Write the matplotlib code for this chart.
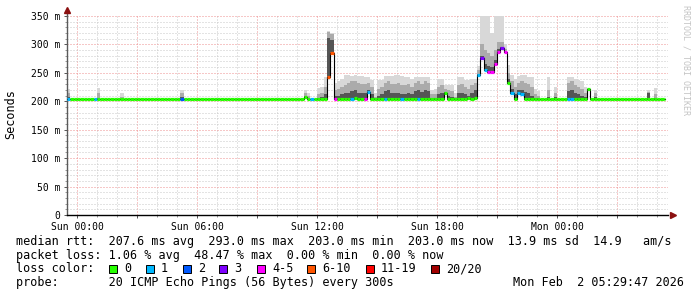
import numpy as np
import matplotlib.pyplot as plt
from matplotlib.patches import Rectangle

# ---- data (hours since Sun 00:00, rtt in ms) ----
base_rtt = 203.5
first_hour = -0.5
last_hour = 29.4
bin_hours = 1 / 6

# bins that differ from the quiet baseline
ev_hour = [-0.5, 0.833, 1.0, 2.167, 5.167, 11.333, 11.5, 11.667, 12.0, 12.167,
           12.333, 12.5, 12.667, 12.833, 13.0, 13.167, 13.333, 13.5, 13.667, 13.833,
           14.0, 14.167, 14.333, 14.5, 14.667, 14.833, 15.0, 15.167, 15.333, 15.5,
           15.667, 15.833, 16.0, 16.167, 16.333, 16.5, 16.667, 16.833, 17.0, 17.167,
           17.333, 17.5, 17.667, 17.833, 18.0, 18.167, 18.333, 18.5, 18.667, 18.833,
           19.0, 19.167, 19.333, 19.5, 19.667, 19.833, 20.0, 20.167, 20.333, 20.5,
           20.667, 20.833, 21.0, 21.167, 21.333, 21.5, 21.667, 21.833, 22.0, 22.167,
           22.333, 22.5, 22.667, 22.833, 23.0, 23.5, 23.833, 24.5, 24.667, 24.833,
           25.0, 25.167, 25.333, 25.5, 25.833, 28.5, 28.833]
ev_median = [203.5, 203.5, 203.5, 203.5, 203.5, 208, 203.5, 203.5, 203.5, 203.5,
             203.5, 243, 285, 203.5, 203.5, 203.5, 203.5, 203.5, 203.5, 205,
             203.5, 203.5, 203.5, 216, 203.5, 203.5, 203.5, 203.5, 203.5, 203.5,
             203.5, 203.5, 203.5, 203.5, 203.5, 203.5, 203.5, 203.5, 203.5, 203.5,
             203.5, 203.5, 203.5, 203.5, 203.5, 203.5, 214, 203.5, 203.5, 203.5,
             203.5, 203.5, 203.5, 206, 203.5, 205, 246, 276, 255, 251,
             251, 265, 287, 293, 287, 232, 214, 204, 214, 212,
             204, 203.5, 203.5, 203.5, 203.5, 203.5, 203.5, 203.5, 203.5, 203.5,
             203.5, 203.5, 203.5, 221, 203.5, 203.5, 203.5]
ev_loss = [1, 1, 0, 0, 2, 0, 0, 1, 0, 0,
           0, 5, 5, 4, 0, 0, 0, 0, 1, 0,
           0, 0, 4, 1, 0, 0, 0, 0, 1, 0,
           0, 0, 0, 1, 0, 0, 0, 0, 1, 0,
           0, 0, 0, 0, 0, 0, 0, 0, 0, 0,
           0, 0, 0, 0, 0, 0, 1, 3, 1, 4,
           4, 4, 4, 3, 4, 0, 1, 0, 1, 1,
           0, 0, 0, 0, 0, 0, 0, 1, 1, 0,
           0, 0, 0, 0, 0, 0, 0]
ev_top = [221, 203.5, 223, 215, 220, 220, 215, 203.5, 223, 225,
          243, 324, 320, 232, 235, 240, 246, 246, 245, 246,
          244, 245, 243, 243, 238, 215, 237, 237, 244, 244,
          244, 246, 246, 245, 243, 243, 240, 243, 243, 243,
          243, 243, 220, 222, 240, 240, 229, 229, 228, 215,
          243, 243, 238, 238, 240, 240, 262, 350, 350, 350,
          320, 350, 350, 350, 300, 264, 246, 240, 244, 246,
          246, 243, 243, 222, 218, 243, 225, 243, 243, 240,
          238, 236, 225, 224, 220, 220, 223]
ev_mid = [215, 203.5, 215, 208, 214, 214, 210, 203.5, 212, 215,
          225, 322, 318, 220, 222, 225, 228, 232, 235, 235,
          232, 230, 230, 232, 225, 208, 222, 225, 232, 235,
          230, 230, 232, 228, 228, 230, 225, 232, 235, 230,
          235, 232, 212, 212, 225, 228, 222, 220, 218, 208,
          228, 230, 225, 222, 228, 232, 255, 300, 290, 285,
          280, 290, 305, 305, 292, 250, 235, 225, 232, 235,
          232, 230, 225, 212, 210, 220, 215, 232, 235, 228,
          225, 222, 215, 222, 214, 217, 212]
ev_low = [208, 203.5, 205, 204, 208, 210, 205, 203.5, 206, 208,
          212, 312, 308, 210, 210, 212, 214, 215, 218, 220,
          215, 215, 214, 220, 212, 205, 210, 212, 218, 220,
          215, 214, 215, 212, 213, 215, 212, 218, 220, 216,
          220, 218, 206, 206, 212, 214, 216, 210, 208, 205,
          214, 215, 212, 210, 215, 220, 248, 280, 265, 262,
          260, 272, 292, 296, 288, 240, 222, 212, 220, 220,
          216, 214, 210, 206, 205, 208, 207, 218, 220, 214,
          212, 210, 208, 221, 208, 215, 206]

loss_labels = ['0', '1', '2', '3', '4-5', '6-10', '11-19', '20/20']
loss_colors = ['#26ff00', '#00b8ff', '#0059ff', '#7e00ff', '#ff00ff',
               '#ff5500', '#ff0000', '#a10000']
tick_hours = [0, 6, 12, 18, 24]
tick_names = ['Sun 00:00', 'Sun 06:00', 'Sun 12:00', 'Sun 18:00', 'Mon 00:00']
y_ticks = [0, 50, 100, 150, 200, 250, 300, 350]
y_names = ['0', '50 m', '100 m', '150 m', '200 m', '250 m', '300 m', '350 m']

stats_line = "median rtt:  207.6 ms avg  293.0 ms max  203.0 ms min  203.0 ms now  13.9 ms sd  14.9   am/s"
loss_line = "packet loss: 1.06 % avg  48.47 % max  0.00 % min  0.00 % now"
probe_line = "probe:       20 ICMP Echo Pings (56 Bytes) every 300s"
stamp = "Mon Feb  2 05:29:47 2026"

# ---- build binned series ----
n_bins = int(round((last_hour - first_hour) / bin_hours)) + 1
starts = first_hour + np.arange(n_bins) * bin_hours
ends = starts + bin_hours
ends[-1] = last_hour
median = np.full(n_bins, base_rtt)
loss = np.zeros(n_bins, dtype=int)
top = median.copy()
mid = median.copy()
low = median.copy()
for h, m, l, t, mi, lo in zip(ev_hour, ev_median, ev_loss, ev_top, ev_mid, ev_low):
    k = int(round((h - first_hour) / bin_hours))
    median[k], loss[k], top[k], mid[k], low[k] = m, l, t, mi, lo

edges = np.append(starts, last_hour)
def stepped(v):
    return np.append(v, v[-1])

W, H = 697, 297
mono = 'DejaVu Sans Mono'
plt.rcParams['font.family'] = mono

fig = plt.figure(figsize=(W / 100, H / 100), dpi=100)
ax = fig.add_axes([67 / W, (H - 215) / H, 601 / W, 199 / H])
ax.set_xlim(-0.5, 29.55)
ax.set_ylim(0, 350)

# smoke
ax.fill_between(edges, stepped(median), stepped(top), step='post', color='#d8d8d8', lw=0, zorder=2)
ax.fill_between(edges, stepped(median), stepped(mid), step='post', color='#ababab', lw=0, zorder=2)
ax.fill_between(edges, stepped(median), stepped(low), step='post', color='#555555', lw=0, zorder=2)

# median line, coloured by loss
ax.step(edges, stepped(median), where='post', color='black', lw=0.8, zorder=3)
ax.hlines(median, starts, ends, colors=[loss_colors[i] for i in loss], lw=2.3, zorder=4)

# grid
ax.set_yticks(y_ticks)
ax.set_yticklabels(y_names)
ax.set_yticks(np.arange(0, 351, 10), minor=True)
major_x = np.arange(0, 28, 3)
ax.set_xticks(major_x)
ax.set_xticklabels([tick_names[tick_hours.index(h)] if h in tick_hours else '' for h in major_x])
ax.set_xticks(np.arange(0, 30, 1), minor=True)
ax.grid(which='minor', color='#c8c8c8', linestyle=(0, (1, 2)), lw=0.72, zorder=1)
ax.grid(which='major', color='#ee9090', linestyle=(0, (1, 2)), lw=0.72, zorder=1)
ax.set_axisbelow(True)

ax.tick_params(which='major', length=2.5, width=0.7, color='#555555', labelsize=7, pad=2.5)
ax.tick_params(which='minor', length=1.5, width=0.6, color='#888888')
for s in ['top', 'right']:
    ax.spines[s].set_visible(False)
ax.spines['left'].set_color('#5a5a5a')
ax.spines['bottom'].set_color('black')
ax.spines['left'].set_linewidth(1.0)
ax.spines['bottom'].set_linewidth(1.0)

# axis arrows
ax.plot([-0.5, -0.5], [350, 358], color='#5a5a5a', lw=1, clip_on=False, zorder=5)
ax.plot([-0.5], [361], marker='^', ms=4, color='#8b1010', clip_on=False, zorder=5)
ax.plot([29.78], [0], marker='>', ms=4, color='#8b1010', clip_on=False, zorder=5)

def px(x, y):
    return x / W, 1 - y / H

fig.text(*px(10.5, 114), 'Seconds', rotation=90, ha='center', va='center', fontsize=8.5)
fig.text(*px(686, 60), 'RRDTOOL / TOBI OETIKER', rotation=270, ha='center', va='center',
         fontsize=6, color='#c4c4c4')

fig.text(*px(16, 245), stats_line, fontsize=8.5, va='baseline')
fig.text(*px(16, 258.7), loss_line, fontsize=8.5, va='baseline')
fig.text(*px(16, 272.4), 'loss color:', fontsize=8.5, va='baseline')
fig.text(*px(16, 286), probe_line, fontsize=8.5, va='baseline')
fig.text(*px(513, 286), stamp, fontsize=8.5, va='baseline')

sq_x = [109, 146, 183, 219, 257, 307, 366, 431]
for i, (lab, col) in enumerate(zip(loss_labels, loss_colors)):
    x0, y0 = px(sq_x[i], 273)
    fig.patches.append(Rectangle((x0, y0), 8 / W, 8 / H, transform=fig.transFigure,
                                 facecolor=col, edgecolor='black', lw=0.7))
    fig.text(*px(sq_x[i] + 15, 272.4), lab, fontsize=8.5, va='baseline')

fig.savefig('out.png', dpi=100)
